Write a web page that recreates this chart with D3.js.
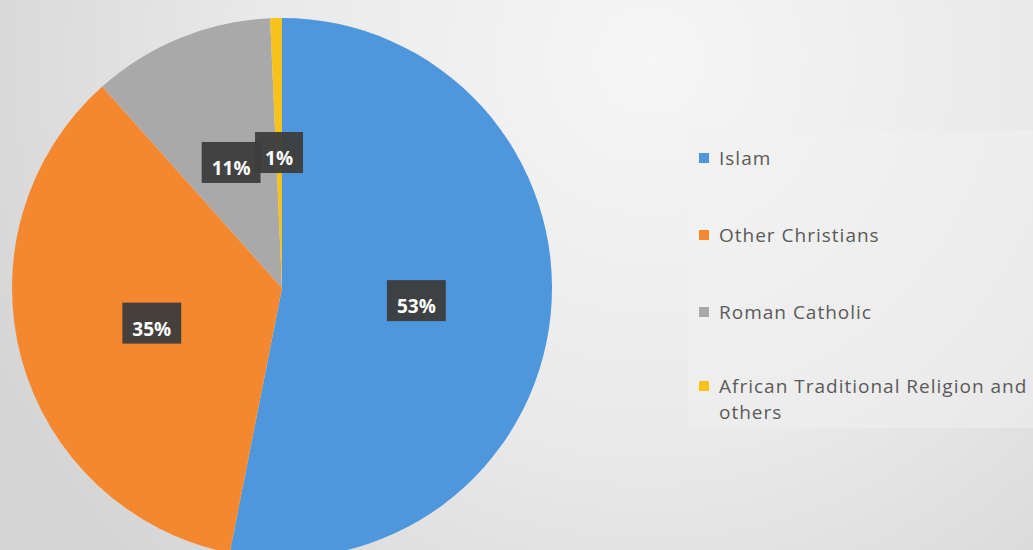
<!DOCTYPE html>
<html>
<head>
<meta charset="utf-8">
<script src="https://cdn.jsdelivr.net/npm/d3@7"></script>
<style>
  body { margin: 0; background: #e8e8e8; }
  svg { display: block; }
  .legend-label { font-family: "Open Sans", sans-serif; font-size: 19px; fill: #5a5a5a; letter-spacing: 1px; }
  .slice-label { font-family: "Open Sans", sans-serif; font-size: 19px; font-weight: 700; fill: #ffffff; }
</style>
</head>
<body>
<script>
// chart data
var categories = ["Islam", "Other Christians", "Roman Catholic", "African Traditional Religion and others"];
var values = [53.1, 35.3, 10.9, 0.7];
var labels = ["53%", "35%", "11%", "1%"];
var colors = ["#4f97dd", "#f5882e", "#a9a9a9", "#f7c21a"];

var width = 1033,
    height = 550;

var svg = d3.select("body").append("svg")
    .attr("width", width)
    .attr("height", height);

var defs = svg.append("defs");

var bg = defs.append("radialGradient")
    .attr("id", "bg")
    .attr("gradientUnits", "userSpaceOnUse")
    .attr("cx", 650).attr("cy", 60).attr("r", 720);
bg.append("stop").attr("offset", "0%").attr("stop-color", "#f6f6f6");
bg.append("stop").attr("offset", "55%").attr("stop-color", "#e9e9e9");
bg.append("stop").attr("offset", "100%").attr("stop-color", "#d5d5d5");

svg.append("rect")
    .attr("width", width)
    .attr("height", height)
    .attr("fill", "url(#bg)");

// legend panel, a bit lighter than the background
svg.append("rect")
    .attr("x", 688)
    .attr("y", 130)
    .attr("width", width - 688)
    .attr("height", 298)
    .attr("fill", "#f1f1f1")
    .attr("opacity", 0.45);

var cx = 282,
    cy = 288,
    radius = 270;

var pie = d3.pie()
    .sort(null)
    .value(function(d) { return d; });

var arc = d3.arc()
    .innerRadius(0)
    .outerRadius(radius);

var arcs = pie(values);

var g = svg.append("g")
    .attr("transform", "translate(" + cx + "," + cy + ")");

g.selectAll("path")
    .data(arcs)
    .enter()
    .append("path")
    .attr("d", arc)
    .attr("fill", function(d, i) { return colors[i]; });

// data labels in dark boxes at the slice centroids
var lab = g.selectAll(".lab")
    .data(arcs)
    .enter().append("g")
    .attr("class", "lab")
    .attr("transform", function(d) {
        var c = arc.centroid(d);
        return "translate(" + c[0] + "," + c[1] + ")";
    });

lab.append("rect")
    .attr("fill", "#3d3d3d")
    .attr("opacity", 0.96);

lab.append("text")
    .attr("class", "slice-label")
    .attr("text-anchor", "middle")
    .attr("y", 12)
    .text(function(d, i) { return labels[i]; });

lab.each(function() {
    var el = d3.select(this);
    var w = el.select("text").node().getComputedTextLength();
    el.select("rect")
        .attr("x", -w / 2 - 10)
        .attr("y", -21)
        .attr("width", w + 20)
        .attr("height", 41);
});

// legend
var legendY = [158, 235, 312, 386];

var legend = svg.selectAll(".legend")
    .data(categories)
    .enter().append("g")
    .attr("class", "legend")
    .attr("transform", function(d, i) {
        return "translate(" + 699 + "," + legendY[i] + ")";
    });

legend.append("rect")
    .attr("x", 0)
    .attr("y", -5)
    .attr("width", 10)
    .attr("height", 10)
    .attr("fill", function(d, i) { return colors[i]; });

legend.append("text")
    .attr("class", "legend-label")
    .attr("x", 20)
    .attr("y", 7)
    .each(function(d) {
        var t = d3.select(this);
        if (d.length > 30) {
            t.append("tspan").attr("x", 20).text("African Traditional Religion and");
            t.append("tspan").attr("x", 20).attr("dy", 26).text("others");
        } else {
            t.text(d);
        }
    });
</script>
</body>
</html>
